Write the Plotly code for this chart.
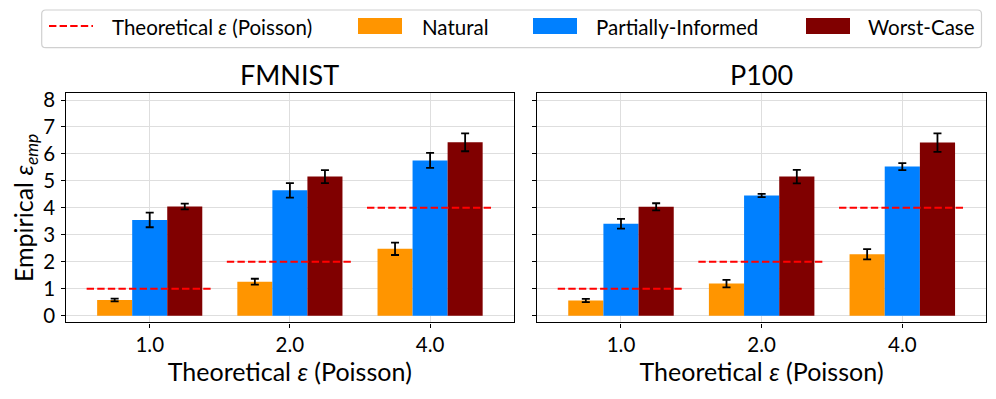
import plotly.graph_objects as go
import numpy as np

# ---------------- data ----------------
theoretical_eps = [1.0, 2.0, 4.0]
tick_labels = ["1.0", "2.0", "4.0"]
series_names = ["Natural", "Partially-Informed", "Worst-Case"]

fmnist_natural = [0.58, 1.26, 2.48]
fmnist_natural_err = [0.05, 0.11, 0.23]
fmnist_partial = [3.55, 4.65, 5.76]
fmnist_partial_err = [0.27, 0.27, 0.28]
fmnist_worst = [4.05, 5.16, 6.43]
fmnist_worst_err = [0.11, 0.24, 0.33]

p100_natural = [0.56, 1.19, 2.28]
p100_natural_err = [0.06, 0.14, 0.19]
p100_partial = [3.41, 4.46, 5.53]
p100_partial_err = [0.18, 0.06, 0.13]
p100_worst = [4.04, 5.16, 6.42]
p100_worst_err = [0.13, 0.25, 0.34]

panels = [
    ("FMNIST", [fmnist_natural, fmnist_partial, fmnist_worst],
     [fmnist_natural_err, fmnist_partial_err, fmnist_worst_err]),
    ("P100", [p100_natural, p100_partial, p100_worst],
     [p100_natural_err, p100_partial_err, p100_worst_err]),
]

# ---------------- style ----------------
# The page body has an 8px margin, so the figure is 988x391 and all
# pixel positions below (measured on the 996x399 picture) are shifted by 8.
OFF = 8
W, H = 996 - OFF, 399 - OFF
FONT = "Lato"
colors = ["#FF9500", "#0080FF", "#800000"]
bar_w = 0.25
offsets = [-0.25, 0.0, 0.25]


def px(x):
    return (x - OFF) / W


def py(y):
    return 1 - (y - OFF) / H


x_domains = [[px(66.3), px(513.5)], [px(537.3), px(986)]]
y_domain = [py(322.4), py(93.3)]

fig = go.Figure()
pos = np.arange(len(theoretical_eps))

for p, (title, vals, errs) in enumerate(panels):
    xa = "x" if p == 0 else "x2"
    ya = "y" if p == 0 else "y2"
    for s in range(3):
        fig.add_trace(go.Bar(
            x=pos + offsets[s], y=vals[s], width=bar_w,
            marker=dict(color=colors[s], line=dict(width=0)),
            error_y=dict(type="data", array=errs[s], color="black",
                         thickness=1.8, width=4),
            name=series_names[s], showlegend=False,
            xaxis=xa, yaxis=ya,
        ))
    # theoretical dashed segments
    lx, ly = [], []
    for i, t in enumerate(theoretical_eps):
        lx += [pos[i] - 0.45, pos[i] + 0.45, None]
        ly += [t, t, None]
    fig.add_trace(go.Scatter(
        x=lx, y=ly, mode="lines",
        line=dict(color="#FF0000", width=2, dash="7.4px,3.2px"),
        name="Theoretical ε (Poisson)", showlegend=False,
        xaxis=xa, yaxis=ya, hoverinfo="skip",
    ))

axis_common = dict(
    showline=True, linecolor="black", linewidth=1.3, mirror=True,
    showgrid=True, gridcolor="#dedede", gridwidth=1.3,
    ticks="outside", ticklen=4, tickwidth=1.2, tickcolor="black",
    zeroline=False, automargin=False,
    tickfont=dict(family=FONT, size=20.5, color="black"),
)

for p in range(2):
    xkey = "xaxis" if p == 0 else "xaxis2"
    ykey = "yaxis" if p == 0 else "yaxis2"
    fig.update_layout(**{
        xkey: dict(axis_common, domain=x_domains[p], range=[-0.595, 2.595],
                   tickmode="array", tickvals=list(pos), ticktext=tick_labels,
                   anchor="y" if p == 0 else "y2",
                   title=dict(text="Theoretical <i>ε</i> (Poisson)",
                              font=dict(family=FONT, size=25, color="black"),
                              standoff=2)),
        ykey: dict(axis_common, domain=y_domain, range=[-0.25, 8.25],
                   tickmode="array", tickvals=list(range(0, 9)),
                   showticklabels=(p == 0),
                   anchor="x" if p == 0 else "x2",
                   ticklabelstandoff=2),
    })

fig.update_layout(yaxis_title=dict(
    text="Empirical <i>ε</i><sub><i>emp</i></sub>",
    font=dict(family=FONT, size=25, color="black"), standoff=4))

# panel titles
for p, (title, _, _) in enumerate(panels):
    fig.add_annotation(text=title, xref="paper", yref="paper",
                       x=sum(x_domains[p]) / 2, y=py(75), xanchor="center",
                       yanchor="middle", showarrow=False,
                       font=dict(family=FONT, size=27, color="black"))

# ---------------- legend (drawn box) ----------------
x0, x1, y0, y1, r = 41.7, 981.5, 10, 47.7, 4
path = (f"M {px(x0+r)},{py(y0)} L {px(x1-r)},{py(y0)} "
        f"Q {px(x1)},{py(y0)} {px(x1)},{py(y0+r)} L {px(x1)},{py(y1-r)} "
        f"Q {px(x1)},{py(y1)} {px(x1-r)},{py(y1)} L {px(x0+r)},{py(y1)} "
        f"Q {px(x0)},{py(y1)} {px(x0)},{py(y1-r)} L {px(x0)},{py(y0+r)} "
        f"Q {px(x0)},{py(y0)} {px(x0+r)},{py(y0)} Z")
fig.add_shape(type="path", path=path, xref="paper", yref="paper",
              line=dict(color="#d0d0d0", width=1.2), fillcolor="white")
fig.add_shape(type="line", xref="paper", yref="paper",
              x0=px(49), x1=px(93), y0=py(26), y1=py(26),
              line=dict(color="#FF0000", width=2, dash="7.4px,3.2px"))
sw_x = [358, 533, 806]
for s in range(3):
    fig.add_shape(type="rect", xref="paper", yref="paper",
                  x0=px(sw_x[s]), x1=px(sw_x[s] + 44), y0=py(34), y1=py(18),
                  line=dict(width=0), fillcolor=colors[s])
leg_text = ["Theoretical <i>ε</i> (Poisson)"] + series_names
leg_x = [110, 420, 594, 866]
for t, xx in zip(leg_text, leg_x):
    fig.add_annotation(text=t, xref="paper", yref="paper", x=px(xx), y=py(27),
                       xanchor="left", yanchor="middle", showarrow=False,
                       font=dict(family=FONT, size=20.5, color="black"))

fig.update_layout(
    width=W, height=H, margin=dict(l=0, r=0, t=0, b=0),
    paper_bgcolor="white", plot_bgcolor="white",
    barmode="overlay", showlegend=False,
    font=dict(family=FONT, color="black"),
)

fig.write_html("out.html")
